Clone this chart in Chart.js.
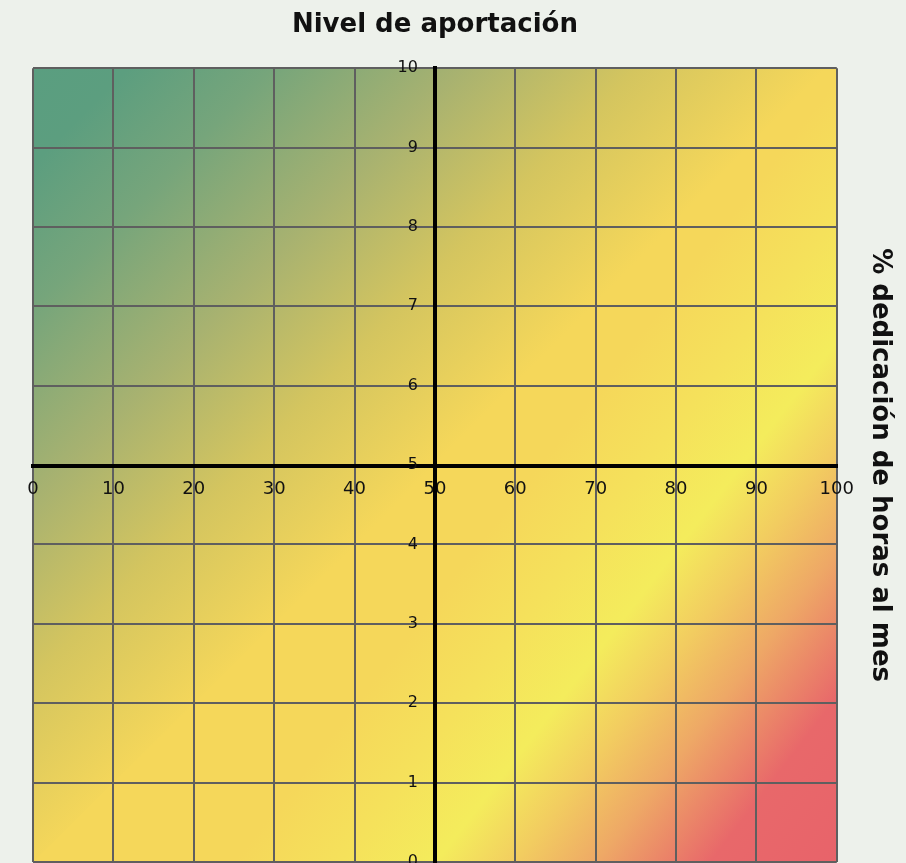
<!DOCTYPE html>
<html>
<head>
<meta charset="utf-8">
<script src="https://cdn.jsdelivr.net/npm/chart.js@4.4.0/dist/chart.umd.min.js"></script>
<style>
html,body{margin:0;padding:0;overflow:hidden;background:#edf1eb;}
</style>
</head>
<body>
<canvas id="myChart" width="906" height="900"></canvas>
<script>

var titulo="Nivel de aportación";
var tituloEje="% dedicación de horas al mes";
var xTicks=[0,10,20,30,40,50,60,70,80,90,100];
var yTicks=[0,1,2,3,4,5,6,7,8,9,10];
var puntos=[];

// fondo: verde arriba-izquierda hasta amarillo en la diagonal
var paradas=[[0,"#5a9e80"],[0.06,"#5c9e7f"],[0.15,"#76a57b"],[0.27,"#a8b270"],[0.38,"#d4c55f"],[0.5,"#f5d75a"],[1,"#f5d75a"]];
// mitad de abajo-derecha: amarillo -> naranja -> rojo (algo mas inclinado)
var paradas2=[[0,"#f5d75a"],[0.25,"#f5d75a"],[0.38,"#f5e15b"],[0.5,"#f4ec5c"],[0.6,"#f2cc60"],[0.7,"#eea866"],[0.84,"#e8686a"],[1,"#e8636a"]];

var fondo={
  id:"fondo",
  beforeDraw:function(chart){
    var a=chart.chartArea, ctx=chart.ctx;
    var w=a.right-a.left, h=a.bottom-a.top;
    ctx.save();
    var g=ctx.createLinearGradient(a.left,a.top,a.right,a.bottom);
    paradas.forEach(function(p){g.addColorStop(p[0],p[1]);});
    ctx.fillStyle=g;
    ctx.fillRect(a.left,a.top,w,h);
    var g2=ctx.createLinearGradient(a.left+0.503*w,a.top+0.338*h,a.left+1.133*w,a.top+0.829*h);
    paradas2.forEach(function(p){g2.addColorStop(p[0],p[1]);});
    ctx.beginPath();
    ctx.moveTo(a.right,a.top);
    ctx.lineTo(a.right,a.bottom);
    ctx.lineTo(a.left,a.bottom);
    ctx.closePath();
    ctx.fillStyle=g2;
    ctx.fill();
    ctx.restore();
  }
};

var fuenteTitulo={family:"DejaVu Sans",size:26,weight:"bold"};

new Chart("myChart",{
  type:"scatter",
  data:{datasets:[{data:puntos}]},
  plugins:[fondo],
  options:{
    responsive:false,
    animation:false,
    layout:{padding:{left:33,right:5,top:0,bottom:38}},
    plugins:{
      legend:{display:false},
      tooltip:{enabled:false}
    },
    scales:{
      x:{type:"linear",min:0,max:100,position:"center",
        afterBuildTicks:function(s){s.ticks=xTicks.map(function(v){return {value:v};});},
        grid:{color:"#5f5f5f",lineWidth:2,drawTicks:false},
        border:{color:"#000",width:4},
        ticks:{color:"#111",padding:13,maxRotation:0,font:{family:"DejaVu Sans",size:18}}
      },
      y:{type:"linear",min:0,max:10,position:"center",
        afterBuildTicks:function(s){s.ticks=yTicks.map(function(v){return {value:v};});},
        grid:{color:"#5f5f5f",lineWidth:2,drawTicks:false},
        border:{color:"#000",width:4},
        ticks:{color:"#111",padding:17,font:{family:"DejaVu Sans",size:16}}
      },
      x2:{type:"linear",position:"top",
        grid:{display:false,drawTicks:false},border:{display:false},ticks:{display:false},
        title:{display:true,text:titulo,color:"#111",font:fuenteTitulo,padding:{top:10,bottom:27}}
      },
      y2:{type:"linear",min:0,max:10,position:"right",
        grid:{display:false,drawTicks:false},border:{display:false},ticks:{display:false},
        title:{display:true,text:tituloEje,color:"#111",font:fuenteTitulo,padding:{top:6,bottom:27}}
      }
    }
  }
});
</script>
</body>
</html>
